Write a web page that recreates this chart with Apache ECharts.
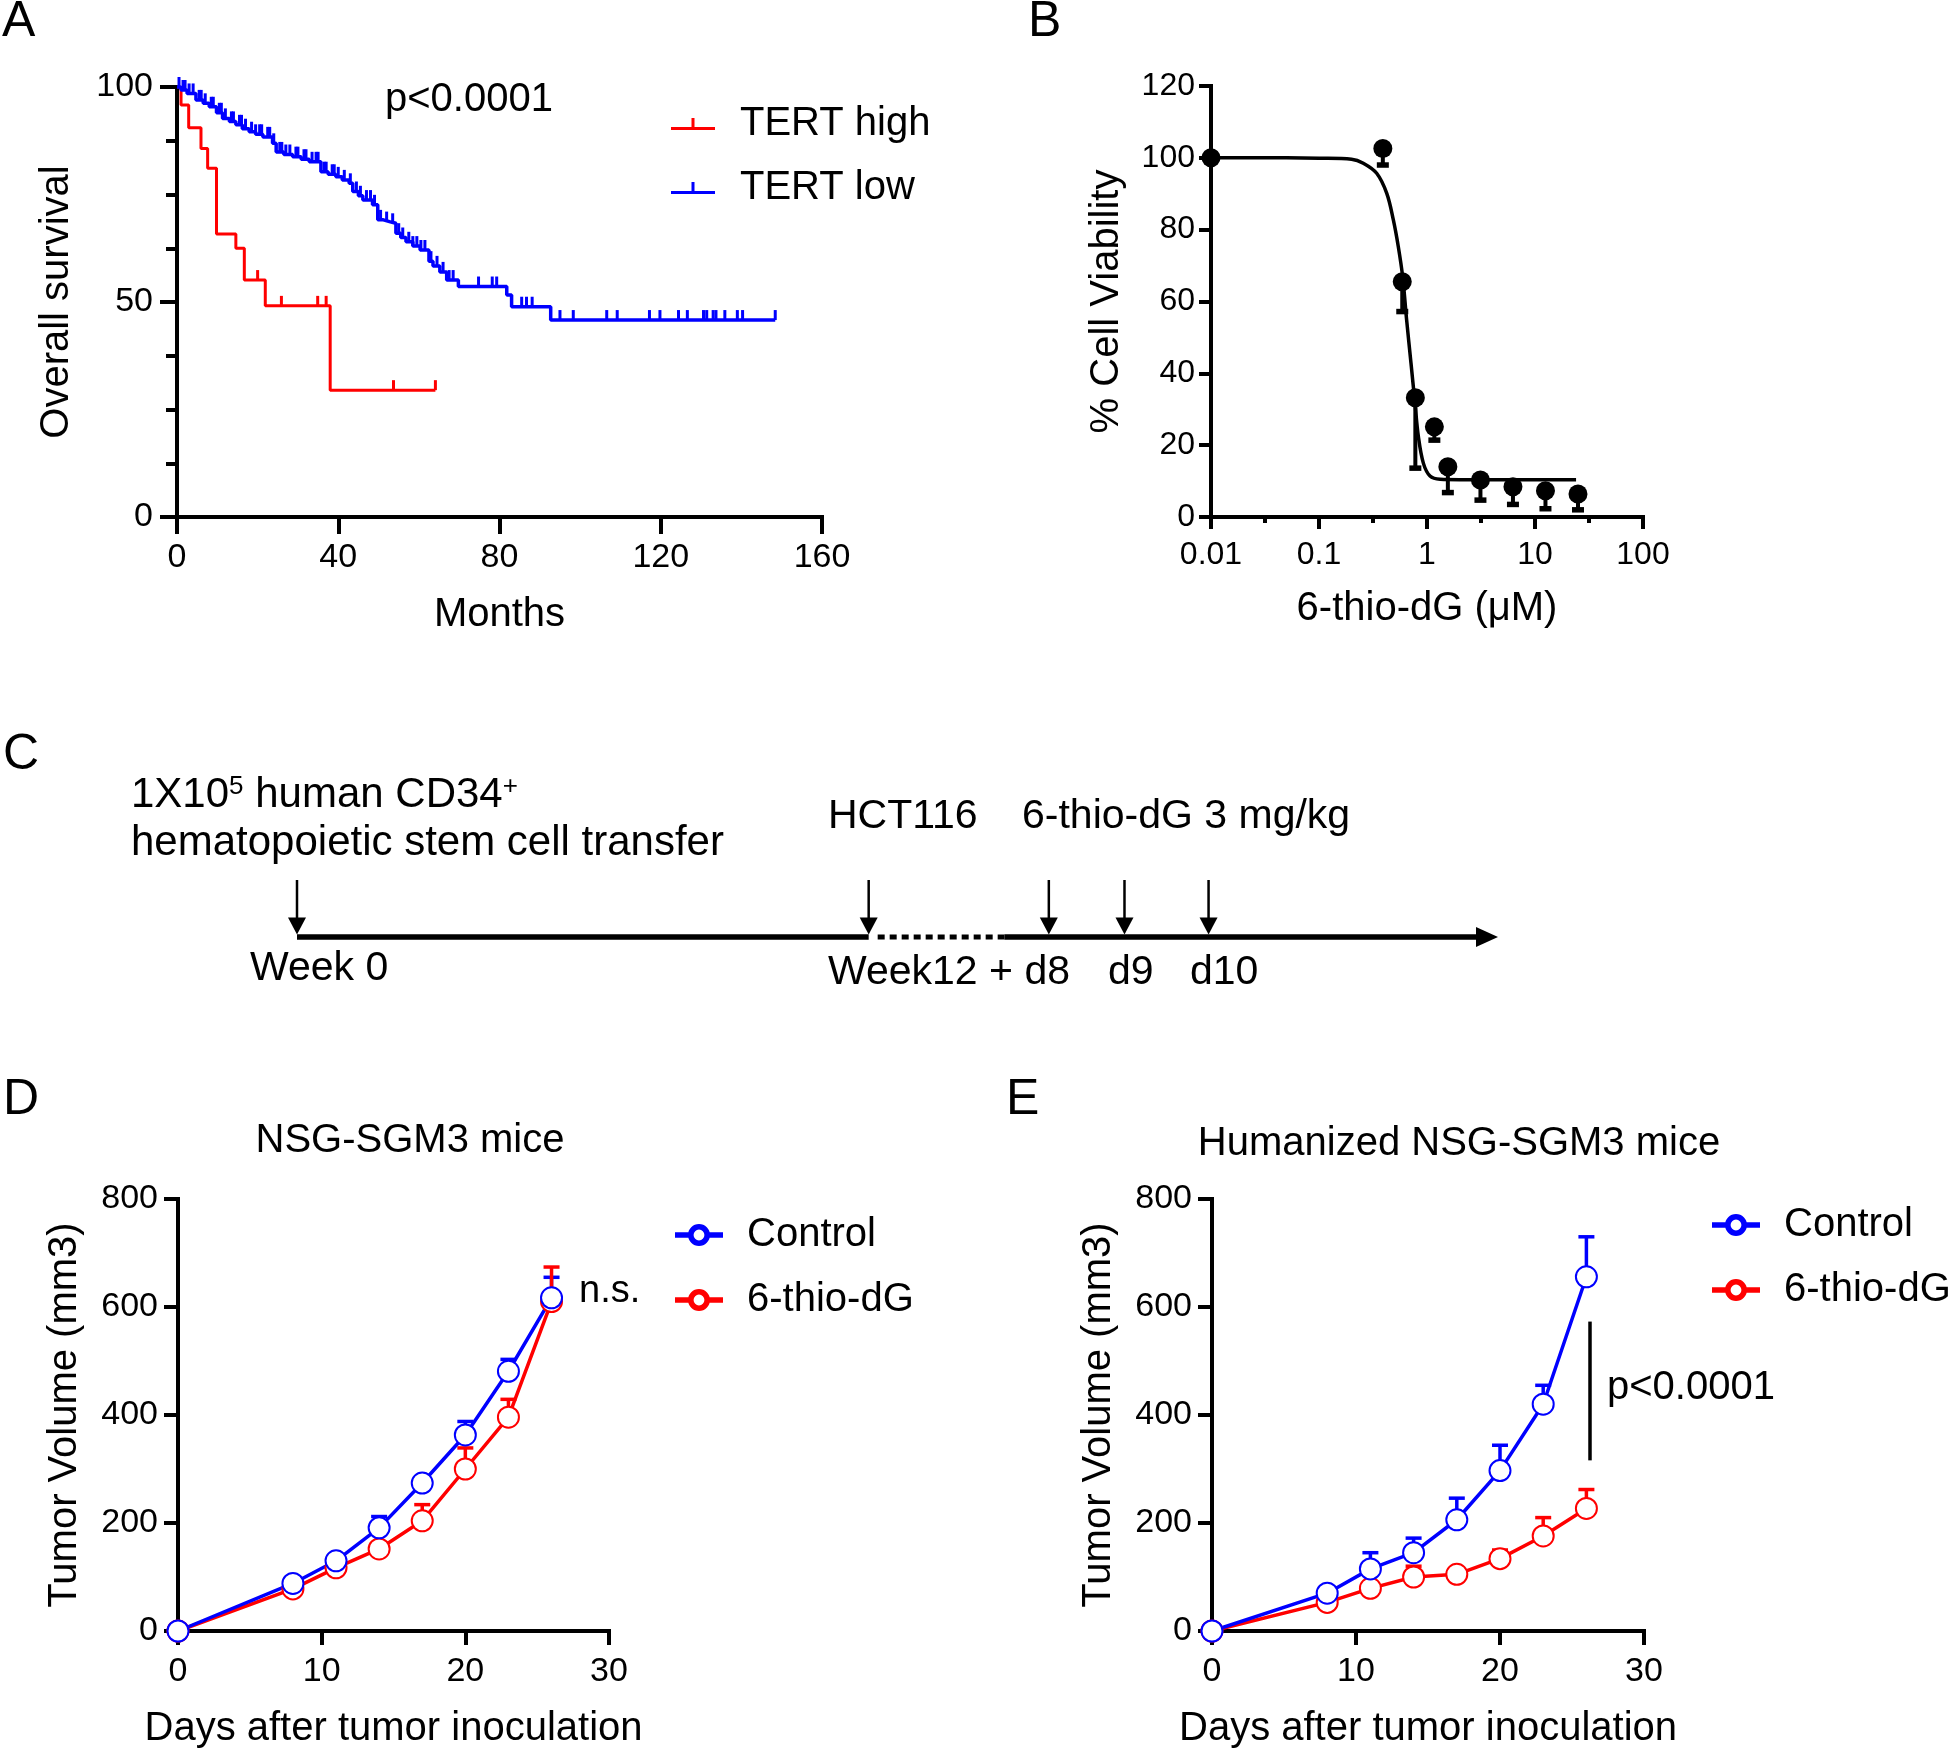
<!DOCTYPE html>
<html><head><meta charset="utf-8">
<script src="https://cdn.jsdelivr.net/npm/echarts@6/dist/echarts.min.js"></script>
<style>html,body{margin:0;padding:0;background:#fff}#c{width:1950px;height:1751px}</style>
</head><body><div id="c"></div><script>
// ---------------- Panel A: Kaplan-Meier ----------------
const kmHighMonths = [0, 1, 2.9, 5.95, 7.6, 9.8, 14.6, 16.7, 21.9, 38, 64.1];
const kmHighSurv   = [100, 95.8, 90.5, 85.7, 81.1, 65.8, 62.5, 55.1, 49.1, 29.5, 29.5];
const kmHighCensor = [20, 25.9, 34.9, 37, 53.7, 64.1];
const kmLowMonths = [0, 1, 2.5, 4.7, 6.5, 8, 9.8, 11.3, 13, 14.6, 16.2, 17.9, 19.5, 21.3, 23.7, 24.6, 26.5, 28.7, 30.8, 32.8,
  35.7, 37.5, 39.4, 41, 42.7, 43.6, 45, 46.1, 48.5, 49.8, 51.2, 52.7, 54.3, 55.5, 56.8, 58.5, 60.3, 62.5, 63.5, 65.2,
  66.9, 69.8, 81.8, 83, 92.7, 148.4];
const kmLowSurv = [100, 99.3, 98.5, 97, 96.2, 95.4, 94, 92.7, 92, 91.2, 90.3, 89.6, 89, 88.4, 86.9, 84.9, 84.3, 83.8, 83.2, 82.6,
  80.3, 79.7, 79.1, 78.4, 77.6, 75.7, 74.7, 73.7, 72.6, 69.1, 68.7, 68.3, 66, 65, 64, 63, 62.1, 59.5, 58.4, 57,
  55.1, 53.6, 51.6, 48.9, 45.8, 45.8];
const kmLowCensor = [0.5, 1.5, 2, 3, 4, 5.5, 6, 7, 8.5, 9, 10.5, 11, 12, 13.5, 14, 15.5, 16, 17, 18.5, 19.5, 20.5, 21, 22.5, 23,
  24, 25.5, 26, 27, 28, 29.5, 30, 31.5, 32, 33.5, 34.5, 35, 36.5, 37, 38.5, 39, 40, 41.5, 43, 44.5, 45.5, 47, 48, 49,
  50.5, 52, 53.5, 55, 56, 57.5, 58.5, 59.5, 60.5, 61.5, 63, 64.5, 66, 67.5, 68.5, 74.8, 78.2, 79.3, 85.5, 86.7, 88.1,
  95, 98.3, 106.6, 109.2, 117.2, 119.8, 124.4, 126.6, 130.6, 131.4, 133, 133.7, 135.9, 139, 140.3, 148.4];
const aYTickLabels = [0, 50, 100];

// ---------------- Panel B: dose response ----------------
const bConc      = [0.01, 0.39, 0.59, 0.78, 1.17, 1.56, 3.125, 6.25, 12.5, 25];
const bViability = [100, 102.6, 65.5, 33.2, 25.1, 14.0, 10.3, 8.4, 7.3, 6.4];
const bErrDown   = [0, 4.6, 8.3, 19.6, 3.7, 7.2, 5.6, 4.9, 5.0, 4.4];
const bFitConc      = [0.01, 0.05, 0.1, 0.2, 0.257, 0.342, 0.424, 0.488, 0.542, 0.595, 0.648, 0.711, 0.774, 0.832, 0.925, 1.067, 1.32, 2, 5, 24];
const bFitViability = [100, 100, 99.9, 99.6, 98.5, 95.7, 90.1, 82.7, 75.3, 66.9, 54.8, 42.8, 31.7, 22.4, 15, 11.4, 10.5, 10.4, 10.4, 10.4];
const bTickLabels = ['0.01', '0.1', '1', '10', '100'];

// ---------------- Panel C: timeline schematic ----------------
const cBreaks = [0, 47.6, 58.9, 100];          // schematic positions along the timeline
const cSegmentKind = [0, 1, 2];                 // 0 solid, 1 dotted, 2 solid with arrow head
const cArrowPos = [0, 47.6, 62.6, 68.9, 75.9];  // Week 0, HCT116, d8, d9, d10

// ---------------- Panels D / E: tumour growth ----------------
const days = [0, 8, 11, 14, 17, 20, 23, 26];
const dControl    = [0, 88, 130, 191, 274, 363, 481, 617];
const dControlErr = [0, 6, 8, 21, 8, 25, 22, 38];
const dThio       = [0, 78, 117, 152, 204, 300, 396, 610];
const dThioErr    = [0, 5, 6, 6, 30, 39, 33, 64];
const eControl    = [0, 70, 115, 145, 206, 297, 420, 656];
const eControlErr = [0, 6, 30, 27, 40, 47, 35, 74];
const eThio       = [0, 53, 79, 100, 105, 134, 176, 227];
const eThioErr    = [0, 4, 10, 20, 5, 16, 34, 35];
const eSigDay = 26.25;
const eSigRange = [316, 573];

const FONT = '"Liberation Sans", Arial, Helvetica, sans-serif';
const BLUE = '#0000ff', RED = '#ff0000', BLACK = '#000000';

function survAt(months, surv, t) {
  let v = surv[0];
  for (let i = 0; i < months.length; i++) if (months[i] <= t) v = surv[i];
  return v;
}
function zip(a, b, c) { return a.map((v, i) => c ? [v, b[i], c[i]] : [v, b[i]]); }

function errorBar(dir, capHalf, lw, capLw, color) {
  return function (params, api) {
    const x = api.value(0), y = api.value(1), e = api.value(2);
    if (!e) return null;
    const p0 = api.coord([x, y]);
    const p1 = api.coord([x, y + dir * e]);
    return {
      type: 'group', children: [
        { type: 'line', shape: { x1: p0[0], y1: p0[1], x2: p1[0], y2: p1[1] }, style: { stroke: color, lineWidth: lw } },
        { type: 'line', shape: { x1: p1[0] - capHalf, y1: p1[1], x2: p1[0] + capHalf, y2: p1[1] }, style: { stroke: color, lineWidth: capLw } }
      ]
    };
  };
}

function axisBase(opt) {
  return Object.assign({
    type: 'value',
    splitLine: { show: false },
    axisLine: { show: true, onZero: false, lineStyle: { color: BLACK, width: 4, cap: 'square' } },
    axisTick: { show: true, length: opt.tickLen, lineStyle: { color: BLACK, width: 4 } },
    axisLabel: Object.assign({ show: true, color: BLACK, fontSize: opt.fontSize, fontFamily: FONT, margin: opt.margin }, opt.label || {}),
    nameLocation: 'middle',
    nameTextStyle: { color: BLACK, fontSize: 40, fontFamily: FONT }
  }, opt.extra || {});
}

const kmIcon = 'path://M0,9 L44,9 L44,12 L0,12 Z M20.5,0 L23.5,0 L23.5,9 L20.5,9 Z';
const ringIcon = 'path://M0,10.7 L13.5,10.7 L13.5,14.3 L0,14.3 Z M32.5,10.7 L46,10.7 L46,14.3 L32.5,14.3 Z ' +
  'M13,12.5 A10,10 0 1,1 33,12.5 A10,10 0 1,1 13,12.5 Z M16.6,12.5 A6.4,6.4 0 1,0 29.4,12.5 A6.4,6.4 0 1,0 16.6,12.5 Z';

const legendText = { fontSize: 40, color: BLACK, fontFamily: FONT, padding: [0, 0, 0, 20] };

const option = {
  animation: false,
  backgroundColor: '#ffffff',
  textStyle: { fontFamily: FONT },
  grid: [
    { left: 177, top: 87, width: 645, height: 430, outerBoundsMode: 'none' },
    { left: 1211, top: 86, width: 432, height: 431, outerBoundsMode: 'none' },
    { left: 297, top: 880, width: 1201, height: 57, outerBoundsMode: 'none' },
    { left: 178, top: 1199, width: 431, height: 432, outerBoundsMode: 'none' },
    { left: 1212, top: 1199, width: 432, height: 432, outerBoundsMode: 'none' }
  ],
  xAxis: [
    axisBase({ tickLen: 17, fontSize: 34, margin: 24, extra: { gridIndex: 0, min: 0, max: 160, interval: 40, name: 'Months', nameGap: 78 } }),
    axisBase({ tickLen: 12, fontSize: 32, margin: 22,
      label: { formatter: v => bTickLabels[Math.round(v) + 2] },
      extra: { gridIndex: 1, min: -2, max: 2, interval: 1, name: '6-thio-dG (\u03bcM)', nameGap: 72,
        minorTick: { show: true, splitNumber: 2, length: 6, lineStyle: { color: BLACK, width: 4 } } } }),
    { gridIndex: 2, type: 'value', min: 0, max: 100, show: false },
    axisBase({ tickLen: 14, fontSize: 34, margin: 24, extra: { gridIndex: 3, min: 0, max: 30, interval: 10, name: 'Days after tumor inoculation', nameGap: 78 } }),
    axisBase({ tickLen: 14, fontSize: 34, margin: 24, extra: { gridIndex: 4, min: 0, max: 30, interval: 10, name: 'Days after tumor inoculation', nameGap: 78 } })
  ],
  yAxis: [
    axisBase({ tickLen: 17, fontSize: 34, margin: 24,
      label: { formatter: v => aYTickLabels.indexOf(v) >= 0 ? String(v) : '' },
      extra: { gridIndex: 0, min: 0, max: 100, interval: 50, name: 'Overall survival', nameGap: 100,
        minorTick: { show: true, splitNumber: 4, length: 11, lineStyle: { color: BLACK, width: 4 } } } }),
    axisBase({ tickLen: 12, fontSize: 32, margin: 16, extra: { gridIndex: 1, min: 0, max: 120, interval: 20, name: '% Cell Viability', nameGap: 84 } }),
    { gridIndex: 2, type: 'value', min: 0, max: 1, show: false },
    axisBase({ tickLen: 14, fontSize: 34, margin: 20, extra: { gridIndex: 3, min: 0, max: 800, interval: 200, name: 'Tumor Volume (mm3)', nameGap: 93 } }),
    axisBase({ tickLen: 14, fontSize: 34, margin: 20, extra: { gridIndex: 4, min: 0, max: 800, interval: 200, name: 'Tumor Volume (mm3)', nameGap: 93 } })
  ],
  legend: [
    { data: [{ name: 'TERT high', icon: kmIcon }, { name: 'TERT low', icon: kmIcon }], left: 671, top: 104, padding: 0, orient: 'vertical',
      itemWidth: 44, itemHeight: 12, itemGap: 24, selectedMode: false, textStyle: legendText },
    { data: [{ name: 'Control', icon: ringIcon }, { name: '6-thio-dG', icon: ringIcon }], left: 675, top: 1215, padding: 0, orient: 'vertical',
      itemWidth: 46, itemHeight: 25, itemGap: 25, selectedMode: false, textStyle: legendText },
    { data: [{ name: 'Control', icon: ringIcon }, { name: '6-thio-dG', icon: ringIcon }], left: 1712, top: 1205, padding: 0, orient: 'vertical',
      itemWidth: 46, itemHeight: 25, itemGap: 25, selectedMode: false, textStyle: legendText }
  ],
  series: [
    // ---- A ----
    { type: 'line', name: 'TERT high', xAxisIndex: 0, yAxisIndex: 0, step: 'end', data: zip(kmHighMonths, kmHighSurv),
      showSymbol: false, symbol: 'none', lineStyle: { color: RED, width: 3 }, itemStyle: { color: RED }, z: 3 },
    { type: 'line', name: 'TERT low', xAxisIndex: 0, yAxisIndex: 0, step: 'end', data: zip(kmLowMonths, kmLowSurv),
      showSymbol: false, symbol: 'none', lineStyle: { color: BLUE, width: 3.5 }, itemStyle: { color: BLUE }, z: 3 },
    { type: 'scatter', name: 'TERT high censored', xAxisIndex: 0, yAxisIndex: 0, silent: true,
      data: kmHighCensor.map(t => [t, survAt(kmHighMonths, kmHighSurv, t)]),
      symbol: 'rect', symbolSize: [3, 10], symbolOffset: [0, -5], itemStyle: { color: RED, opacity: 1 }, z: 3 },
    { type: 'scatter', name: 'TERT low censored', xAxisIndex: 0, yAxisIndex: 0, silent: true,
      data: kmLowCensor.map(t => [t, survAt(kmLowMonths, kmLowSurv, t)]),
      symbol: 'rect', symbolSize: [3, 10], symbolOffset: [0, -5], itemStyle: { color: BLUE, opacity: 1 }, z: 3 },
    // ---- B ----
    { type: 'line', name: 'fit', xAxisIndex: 1, yAxisIndex: 1, smooth: 0.35, showSymbol: false, symbol: 'none',
      data: bFitConc.map((c, i) => [Math.log10(c), bFitViability[i]]), lineStyle: { color: BLACK, width: 3.5 }, z: 2 },
    { type: 'custom', name: 'viability error', xAxisIndex: 1, yAxisIndex: 1, silent: true, z: 3,
      data: bConc.map((c, i) => [Math.log10(c), bViability[i], bErrDown[i]]),
      renderItem: errorBar(-1, 6, 4, 5.5, BLACK) },
    { type: 'scatter', name: 'viability', xAxisIndex: 1, yAxisIndex: 1, silent: true, z: 4,
      data: bConc.map((c, i) => [Math.log10(c), bViability[i]]), symbol: 'circle', symbolSize: 19, itemStyle: { color: BLACK, opacity: 1 } },
    // ---- C ----
    { type: 'custom', name: 'timeline', xAxisIndex: 2, yAxisIndex: 2, silent: true,
      data: cSegmentKind.map((k, i) => [cBreaks[i], cBreaks[i + 1], k]),
      renderItem: function (params, api) {
        const p0 = api.coord([api.value(0), 0]), p1 = api.coord([api.value(1), 0]);
        const kind = api.value(2);
        if (kind === 1) {
          return { type: 'line', shape: { x1: p0[0] + 9, y1: p0[1], x2: p1[0], y2: p1[1] }, style: { stroke: BLACK, lineWidth: 5, lineDash: [7, 5] } };
        }
        if (kind === 2) {
          return { type: 'group', children: [
            { type: 'line', shape: { x1: p0[0], y1: p0[1], x2: p1[0] - 18, y2: p1[1] }, style: { stroke: BLACK, lineWidth: 5.5 } },
            { type: 'polygon', shape: { points: [[p1[0], p1[1]], [p1[0] - 22, p1[1] - 10], [p1[0] - 22, p1[1] + 10]] }, style: { fill: BLACK } }
          ] };
        }
        return { type: 'line', shape: { x1: p0[0], y1: p0[1], x2: p1[0], y2: p1[1] }, style: { stroke: BLACK, lineWidth: 5.5 } };
      } },
    { type: 'custom', name: 'events', xAxisIndex: 2, yAxisIndex: 2, silent: true,
      data: cArrowPos.map(p => [p]),
      renderItem: function (params, api) {
        const top = api.coord([api.value(0), 1]);
        const base = api.coord([api.value(0), 0]);
        const tipY = base[1] - 2.5;
        return { type: 'group', children: [
          { type: 'line', shape: { x1: top[0], y1: top[1], x2: top[0], y2: tipY - 14 }, style: { stroke: BLACK, lineWidth: 2.5 } },
          { type: 'polygon', shape: { points: [[top[0], tipY], [top[0] - 9, tipY - 17], [top[0] + 9, tipY - 17]] }, style: { fill: BLACK } }
        ] };
      } },
    // ---- D ----
    { type: 'custom', name: 'D control err', xAxisIndex: 3, yAxisIndex: 3, silent: true, z: 1, data: zip(days, dControl, dControlErr), renderItem: errorBar(1, 8, 3.5, 3.5, BLUE) },
    { type: 'custom', name: 'D thio err', xAxisIndex: 3, yAxisIndex: 3, silent: true, z: 1, data: zip(days, dThio, dThioErr), renderItem: errorBar(1, 8, 3.5, 3.5, RED) },
    { type: 'line', name: '6-thio-dG', xAxisIndex: 3, yAxisIndex: 3, data: zip(days, dThio), symbol: 'emptyCircle', symbolSize: 21,
      lineStyle: { color: RED, width: 3.5 }, itemStyle: { color: RED, borderColor: RED, borderWidth: 3.5 }, z: 2 },
    { type: 'line', name: 'Control', xAxisIndex: 3, yAxisIndex: 3, data: zip(days, dControl), symbol: 'emptyCircle', symbolSize: 21,
      lineStyle: { color: BLUE, width: 3.5 }, itemStyle: { color: BLUE, borderColor: BLUE, borderWidth: 3.5 }, z: 2 },
    // ---- E ----
    { type: 'custom', name: 'E control err', xAxisIndex: 4, yAxisIndex: 4, silent: true, z: 1, data: zip(days, eControl, eControlErr), renderItem: errorBar(1, 8, 3.5, 3.5, BLUE) },
    { type: 'custom', name: 'E thio err', xAxisIndex: 4, yAxisIndex: 4, silent: true, z: 1, data: zip(days, eThio, eThioErr), renderItem: errorBar(1, 8, 3.5, 3.5, RED) },
    { type: 'line', name: '6-thio-dG', xAxisIndex: 4, yAxisIndex: 4, data: zip(days, eThio), symbol: 'emptyCircle', symbolSize: 21,
      lineStyle: { color: RED, width: 3.5 }, itemStyle: { color: RED, borderColor: RED, borderWidth: 3.5 }, z: 2 },
    { type: 'line', name: 'Control', xAxisIndex: 4, yAxisIndex: 4, data: zip(days, eControl), symbol: 'emptyCircle', symbolSize: 21,
      lineStyle: { color: BLUE, width: 3.5 }, itemStyle: { color: BLUE, borderColor: BLUE, borderWidth: 3.5 }, z: 2 },
    { type: 'custom', name: 'E significance', xAxisIndex: 4, yAxisIndex: 4, silent: true, data: [[eSigDay, eSigRange[0], eSigRange[1]]],
      renderItem: function (params, api) {
        const a = api.coord([api.value(0), api.value(1)]), b = api.coord([api.value(0), api.value(2)]);
        return { type: 'line', shape: { x1: a[0], y1: a[1], x2: b[0], y2: b[1] }, style: { stroke: BLACK, lineWidth: 3.5 } };
      } }
  ],
  graphic: [
    { type: 'text', style: { x: 2, y: 22, text: 'A', fontSize: 50, fontFamily: FONT, fill: BLACK, verticalAlign: 'middle' } },
    { type: 'text', style: { x: 1028, y: 22, text: 'B', fontSize: 50, fontFamily: FONT, fill: BLACK, verticalAlign: 'middle' } },
    { type: 'text', style: { x: 3, y: 755, text: 'C', fontSize: 50, fontFamily: FONT, fill: BLACK, verticalAlign: 'middle' } },
    { type: 'text', style: { x: 3, y: 1100, text: 'D', fontSize: 50, fontFamily: FONT, fill: BLACK, verticalAlign: 'middle' } },
    { type: 'text', style: { x: 1006, y: 1100, text: 'E', fontSize: 50, fontFamily: FONT, fill: BLACK, verticalAlign: 'middle' } },
    { type: 'text', style: { x: 385, y: 100, text: 'p<0.0001', fontSize: 40, fontFamily: FONT, fill: BLACK, verticalAlign: 'middle' } },
    { type: 'text', style: { x: 131, y: 795, text: '1X10{sup|5} human CD34{sup|+}', fontSize: 42, fontFamily: FONT, fill: BLACK, verticalAlign: 'middle',
      rich: { sup: { fontSize: 26, fontFamily: FONT, fill: BLACK, verticalAlign: 'top' } } } },
    { type: 'text', style: { x: 131, y: 843, text: 'hematopoietic stem cell transfer', fontSize: 42, fontFamily: FONT, fill: BLACK, verticalAlign: 'middle' } },
    { type: 'text', style: { x: 828, y: 817, text: 'HCT116', fontSize: 41, fontFamily: FONT, fill: BLACK, verticalAlign: 'middle' } },
    { type: 'text', style: { x: 1022, y: 817, text: '6-thio-dG 3 mg/kg', fontSize: 41, fontFamily: FONT, fill: BLACK, verticalAlign: 'middle' } },
    { type: 'text', style: { x: 250, y: 969, text: 'Week 0', fontSize: 41, fontFamily: FONT, fill: BLACK, verticalAlign: 'middle' } },
    { type: 'text', style: { x: 828, y: 973, text: 'Week12 + d8', fontSize: 41, fontFamily: FONT, fill: BLACK, verticalAlign: 'middle' } },
    { type: 'text', style: { x: 1108, y: 973, text: 'd9', fontSize: 41, fontFamily: FONT, fill: BLACK, verticalAlign: 'middle' } },
    { type: 'text', style: { x: 1190, y: 973, text: 'd10', fontSize: 41, fontFamily: FONT, fill: BLACK, verticalAlign: 'middle' } },
    { type: 'text', style: { x: 410, y: 1141, text: 'NSG-SGM3 mice', fontSize: 40, fontFamily: FONT, fill: BLACK, align: 'center', verticalAlign: 'middle' } },
    { type: 'text', style: { x: 1459, y: 1144, text: 'Humanized NSG-SGM3 mice', fontSize: 40, fontFamily: FONT, fill: BLACK, align: 'center', verticalAlign: 'middle' } },
    { type: 'text', style: { x: 579, y: 1292, text: 'n.s.', fontSize: 38, fontFamily: FONT, fill: BLACK, verticalAlign: 'middle' } },
    { type: 'text', style: { x: 1607, y: 1388, text: 'p<0.0001', fontSize: 40, fontFamily: FONT, fill: BLACK, verticalAlign: 'middle' } }
  ]
};

const chart = echarts.init(document.getElementById('c'), null, { renderer: 'canvas', width: 1950, height: 1751 });
chart.setOption(option);
</script></body></html>
